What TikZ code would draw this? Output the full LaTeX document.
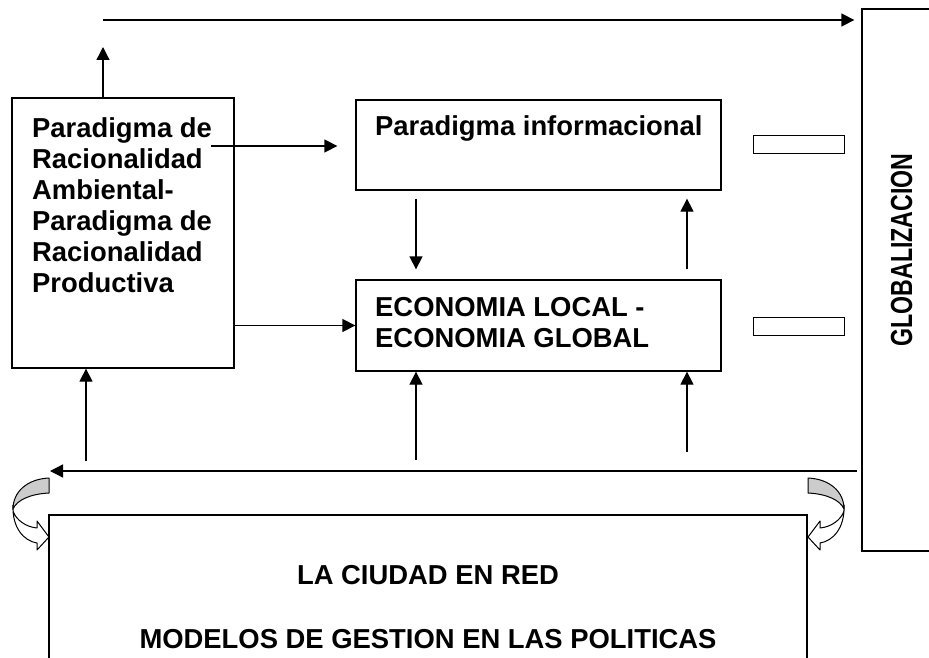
\documentclass[tikz,border=0pt]{standalone}
\usepackage{fontspec}
\setmainfont{Liberation Sans}
\newfontfamily\estrechafont{Liberation Sans}[FakeStretch=0.76]
\usetikzlibrary{arrows.meta}

\begin{document}
\begin{tikzpicture}[x=1pt, y=-1pt,
	caja/.style={draw, line width=1.3pt, inner sep=0pt},
	flecha/.style={line width=1.3pt, -{Triangle[length=13pt, width=13pt]}},
	texto/.style={inner sep=0pt, font=\bfseries\fontsize{27.4}{31}\selectfont},
	curva/.style={draw, line width=1pt, line join=round}]

	\useasboundingbox (0,0) rectangle (929,658);

	\node[caja, minimum width=222pt, minimum height=270pt] (paradigma) at (123,233) {};
	\node[caja, minimum width=365pt, minimum height=90pt] (info) at (538.5,145) {};
	\node[caja, minimum width=365pt, minimum height=91pt] (economia) at (538.5,325.5) {};
	\node[caja, minimum width=83pt, minimum height=542pt] (globo) at (903.5,280) {};
	\node[caja, line width=1pt, minimum width=91pt, minimum height=18pt] (barra1) at (798.5,145) {};
	\node[caja, line width=1pt, minimum width=91pt, minimum height=18pt] (barra2) at (798.5,326) {};
	\node[caja, minimum width=758pt, minimum height=185pt] (ciudad) at (428,607.5) {};

	\node[texto, anchor=north west, align=left] (t1) at (32,117) {Paradigma de\\Racionalidad\\Ambiental-\\Paradigma de\\Racionalidad\\Productiva};
	\node[texto, anchor=base west] (t2) at (375,136) {Paradigma informacional};
	\node[texto, anchor=north west, align=left] (t3) at (375,297) {ECONOMIA LOCAL -\\ECONOMIA GLOBAL};
	\node[inner sep=0pt, rotate=90, anchor=base, font=\estrechafont\bfseries\fontsize{30.5}{33}\selectfont] (t4) at (912,250) {GLOBALIZACION};
	\node[texto, anchor=base] (t5) at (428,584) {LA CIUDAD EN RED};
	\node[texto, anchor=base] (t6) at (428,648) {MODELOS DE GESTION EN LAS POLITICAS};

	% flechas
	\coordinate (arriba) at (103,20);
	\coordinate (p1) at (103,47);
	\draw[flecha] (paradigma.north -| p1) -- (p1);
	\draw[flecha, shorten >=7pt] (arriba) -- (arriba -| globo.west);

	\coordinate (m1) at (211,146);
	\draw[flecha, shorten >=18pt] (m1) -- (m1 -| info.west);
	\draw[flecha] (paradigma.east |- economia.west) -- (economia.west);

	\coordinate (c1) at (416,0);
	\coordinate (c2) at (687,0);
	\draw[flecha, shorten <=8pt, shorten >=10pt] (c1 |- info.south) -- (c1 |- economia.north);
	\draw[flecha, shorten <=10pt, shorten >=8pt] (c2 |- economia.north) -- (c2 |- info.south);

	\coordinate (b1) at (416,460);
	\coordinate (b2) at (687,452);
	\coordinate (b3) at (86,461);
	\draw[flecha] (b1) -- (b1 |- economia.south);
	\draw[flecha] (b2) -- (b2 |- economia.south);
	\draw[flecha] (b3) -- (b3 |- paradigma.south);

	\coordinate (h1) at (857,471);
	\coordinate (h2) at (50,471);
	\draw[flecha] (h1) -- (h2);

	% flechas curvas
	\draw[curva, fill=black!20] (49,478) .. controls (27,479) and (13,492) .. (13,509) .. controls (17,500) and (30,494) .. (49,493) -- cycle;
	\draw[curva, fill=white] (13,505) .. controls (12,528) and (24,541) .. (37,543) -- (37,550) -- (49,537) -- (37,521) -- (37,528) .. controls (26,527) and (16,520) .. (13,511) -- cycle;
	\begin{scope}[shift={(857,0)}, xscale=-1]
		\draw[curva, fill=black!20] (49,478) .. controls (27,479) and (13,492) .. (13,509) .. controls (17,500) and (30,494) .. (49,493) -- cycle;
		\draw[curva, fill=white] (13,505) .. controls (12,528) and (24,541) .. (37,543) -- (37,550) -- (49,537) -- (37,521) -- (37,528) .. controls (26,527) and (16,520) .. (13,511) -- cycle;
	\end{scope}
\end{tikzpicture}
\end{document}
